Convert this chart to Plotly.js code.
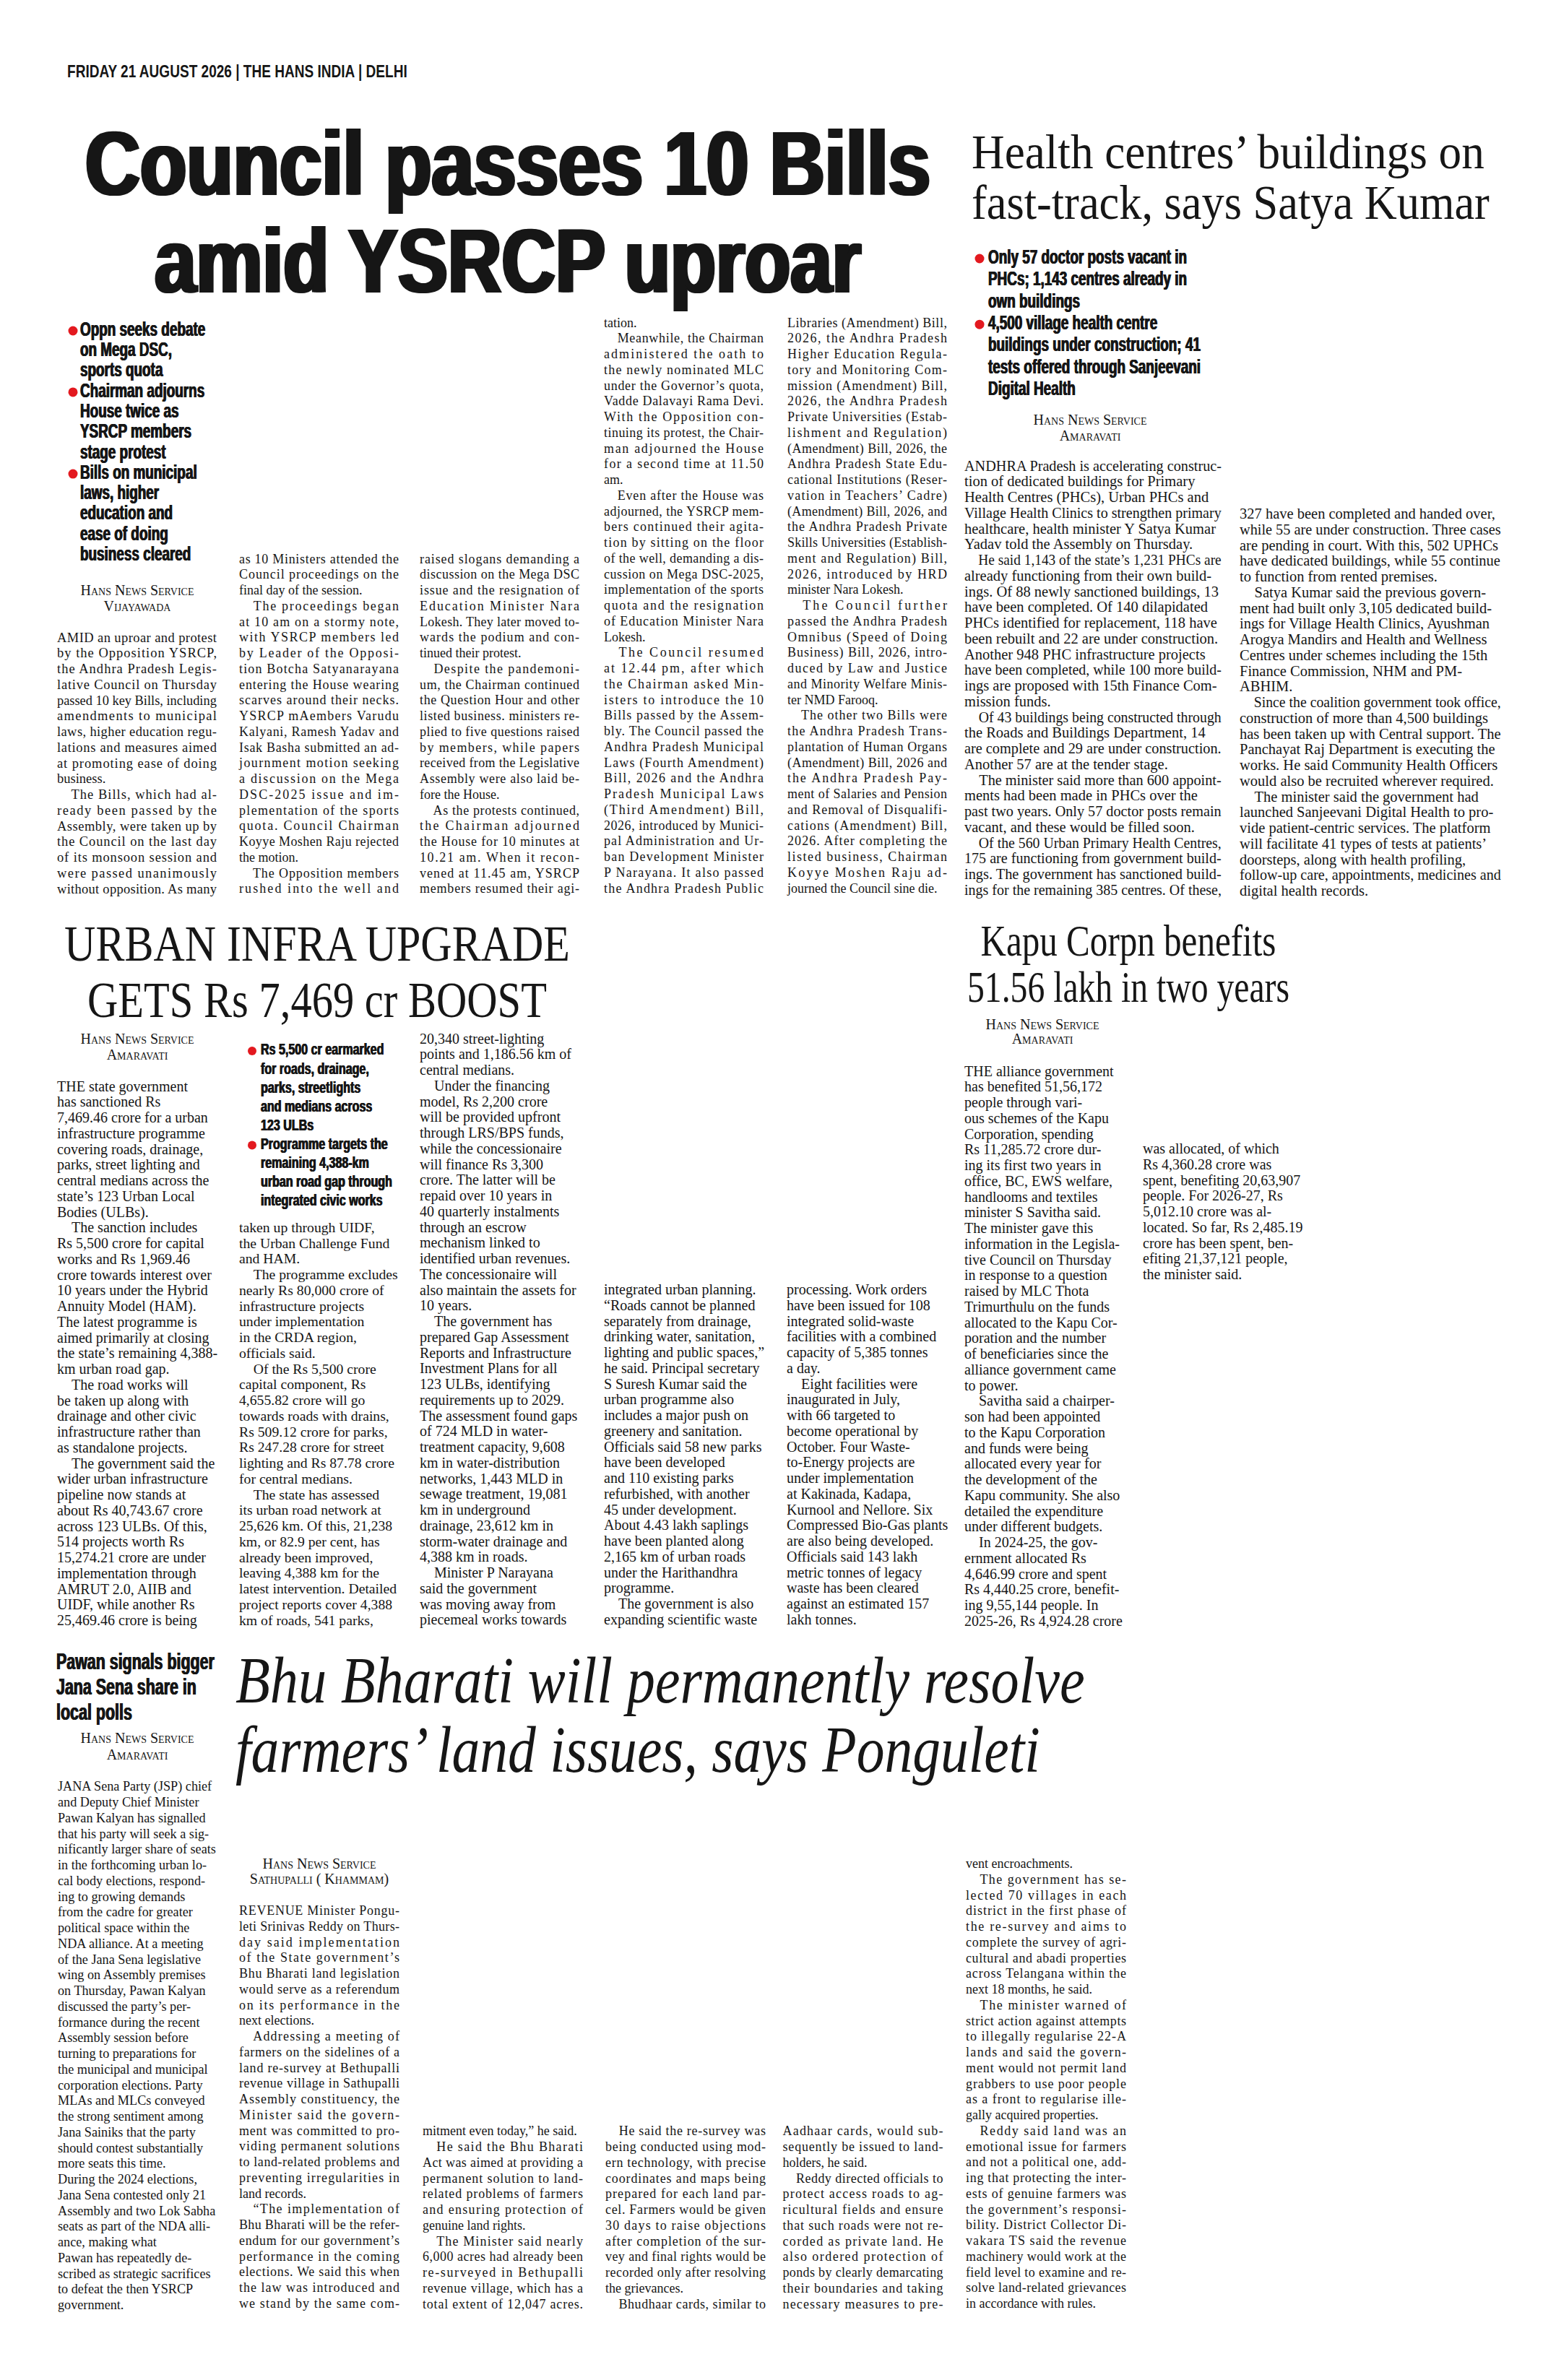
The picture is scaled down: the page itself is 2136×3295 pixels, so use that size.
<!DOCTYPE html>
<html>
<head>
<meta charset="utf-8">
<script src="https://cdn.plot.ly/plotly-3.0.1.min.js"></script>
<style>
  html, body { margin: 0; padding: 0; background: #fff; }
  #page { width: 2136px; height: 3295px; }
</style>
</head>
<body>
<div id="page"></div>
<script>
(() => {
  "use strict";

  const W = 2136, H = 3295;
  const IND = "\u2003"; // paragraph indent

  // ---------------------------------------------------------
  // text (one entry per printed line)
  // ---------------------------------------------------------
  const dateline = ["FRIDAY 21 AUGUST 2026 | THE HANS INDIA | DELHI"];

  const councilHead = ["Council passes 10 Bills", "amid YSRCP uproar"];
  const councilBullets = [
    ["Oppn seeks debate", "on Mega DSC,", "sports quota"],
    ["Chairman adjourns", "House twice as", "YSRCP members", "stage protest"],
    ["Bills on municipal", "laws, higher", "education and", "ease of doing", "business cleared"]
  ];
  const councilByline = ["Hans News Service", "Vijayawada"];
  const councilCol1 = [
    "AMID an uproar and protest", "by the Opposition YSRCP,", "the Andhra Pradesh Legis-",
    "lative Council on Thursday", "passed 10 key Bills, including", "amendments to municipal",
    "laws, higher education regu-", "lations and measures aimed", "at promoting ease of doing",
    "business.", IND + "The Bills, which had al-", "ready been passed by the",
    "Assembly, were taken up by", "the Council on the last day", "of its monsoon session and",
    "were passed unanimously", "without opposition. As many"
  ];
  const councilCol2 = [
    "as 10 Ministers attended the", "Council proceedings on the", "final day of the session.",
    IND + "The proceedings began", "at 10 am on a stormy note,", "with YSRCP members led",
    "by Leader of the Opposi-", "tion Botcha Satyanarayana", "entering the House wearing",
    "scarves around their necks.", "YSRCP mAembers Varudu", "Kalyani, Ramesh Yadav and",
    "Isak Basha submitted an ad-", "journment motion seeking", "a discussion on the Mega",
    "DSC-2025 issue and im-", "plementation of the sports", "quota. Council Chairman",
    "Koyye Moshen Raju rejected", "the motion.", IND + "The Opposition members",
    "rushed into the well and"
  ];
  const councilCol3 = [
    "raised slogans demanding a", "discussion on the Mega DSC", "issue and the resignation of",
    "Education Minister Nara", "Lokesh. They later moved to-", "wards the podium and con-",
    "tinued their protest.", IND + "Despite the pandemoni-", "um, the Chairman continued",
    "the Question Hour and other", "listed business. ministers re-", "plied to five questions raised",
    "by members, while papers", "received from the Legislative", "Assembly were also laid be-",
    "fore the House.", IND + "As the protests continued,", "the Chairman adjourned",
    "the House for 10 minutes at", "10.21 am. When it recon-", "vened at 11.45 am, YSRCP",
    "members resumed their agi-"
  ];
  const councilCol4 = [
    "tation.", IND + "Meanwhile, the Chairman", "administered the oath to",
    "the newly nominated MLC", "under the Governor’s quota,", "Vadde Dalavayi Rama Devi.",
    "With the Opposition con-", "tinuing its protest, the Chair-", "man adjourned the House",
    "for a second time at 11.50", "am.", IND + "Even after the House was",
    "adjourned, the YSRCP mem-", "bers continued their agita-", "tion by sitting on the floor",
    "of the well, demanding a dis-", "cussion on Mega DSC-2025,", "implementation of the sports",
    "quota and the resignation", "of Education Minister Nara", "Lokesh.",
    IND + "The Council resumed", "at 12.44 pm, after which", "the Chairman asked Min-",
    "isters to introduce the 10", "Bills passed by the Assem-", "bly. The Council passed the",
    "Andhra Pradesh Municipal", "Laws (Fourth Amendment)", "Bill, 2026 and the Andhra",
    "Pradesh Municipal Laws", "(Third Amendment) Bill,", "2026, introduced by Munici-",
    "pal Administration and Ur-", "ban Development Minister", "P Narayana. It also passed",
    "the Andhra Pradesh Public"
  ];
  const councilCol5 = [
    "Libraries (Amendment) Bill,", "2026, the Andhra Pradesh", "Higher Education Regula-",
    "tory and Monitoring Com-", "mission (Amendment) Bill,", "2026, the Andhra Pradesh",
    "Private Universities (Estab-", "lishment and Regulation)", "(Amendment) Bill, 2026, the",
    "Andhra Pradesh State Edu-", "cational Institutions (Reser-", "vation in Teachers’ Cadre)",
    "(Amendment) Bill, 2026, and", "the Andhra Pradesh Private", "Skills Universities (Establish-",
    "ment and Regulation) Bill,", "2026, introduced by HRD", "minister Nara Lokesh.",
    IND + "The Council further", "passed the Andhra Pradesh", "Omnibus (Speed of Doing",
    "Business) Bill, 2026, intro-", "duced by Law and Justice", "and Minority Welfare Minis-",
    "ter NMD Farooq.", IND + "The other two Bills were", "the Andhra Pradesh Trans-",
    "plantation of Human Organs", "(Amendment) Bill, 2026 and", "the Andhra Pradesh Pay-",
    "ment of Salaries and Pension", "and Removal of Disqualifi-", "cations (Amendment) Bill,",
    "2026. After completing the", "listed business, Chairman", "Koyye Moshen Raju ad-",
    "journed the Council sine die."
  ];

  const healthHead = ["Health centres’ buildings on", "fast-track, says Satya Kumar"];
  const healthBullets = [
    ["Only 57 doctor posts vacant in", "PHCs; 1,143 centres already in", "own buildings"],
    ["4,500 village health centre", "buildings under construction; 41", "tests offered through Sanjeevani", "Digital Health"]
  ];
  const healthByline = ["Hans News Service", "Amaravati"];
  const healthCol1 = [
    "ANDHRA Pradesh is accelerating construc-", "tion of dedicated buildings for Primary",
    "Health Centres (PHCs), Urban PHCs and", "Village Health Clinics to strengthen primary",
    "healthcare, health minister Y Satya Kumar", "Yadav told the Assembly on Thursday.",
    IND + "He said 1,143 of the state’s 1,231 PHCs are", "already functioning from their own build-",
    "ings. Of 88 newly sanctioned buildings, 13", "have been completed. Of 140 dilapidated",
    "PHCs identified for replacement, 118 have", "been rebuilt and 22 are under construction.",
    "Another 948 PHC infrastructure projects", "have been completed, while 100 more build-",
    "ings are proposed with 15th Finance Com-", "mission funds.",
    IND + "Of 43 buildings being constructed through", "the Roads and Buildings Department, 14",
    "are complete and 29 are under construction.", "Another 57 are at the tender stage.",
    IND + "The minister said more than 600 appoint-", "ments had been made in PHCs over the",
    "past two years. Only 57 doctor posts remain", "vacant, and these would be filled soon.",
    IND + "Of the 560 Urban Primary Health Centres,", "175 are functioning from government build-",
    "ings. The government has sanctioned build-", "ings for the remaining 385 centres. Of these,"
  ];
  const healthCol2 = [
    "327 have been completed and handed over,", "while 55 are under construction. Three cases",
    "are pending in court. With this, 502 UPHCs", "have dedicated buildings, while 55 continue",
    "to function from rented premises.", IND + "Satya Kumar said the previous govern-",
    "ment had built only 3,105 dedicated build-", "ings for Village Health Clinics, Ayushman",
    "Arogya Mandirs and Health and Wellness", "Centres under schemes including the 15th",
    "Finance Commission, NHM and PM-", "ABHIM.",
    IND + "Since the coalition government took office,", "construction of more than 4,500 buildings",
    "has been taken up with Central support. The", "Panchayat Raj Department is executing the",
    "works. He said Community Health Officers", "would also be recruited wherever required.",
    IND + "The minister said the government had", "launched Sanjeevani Digital Health to pro-",
    "vide patient-centric services. The platform", "will facilitate 41 types of tests at patients’",
    "doorsteps, along with health profiling,", "follow-up care, appointments, medicines and",
    "digital health records."
  ];

  const urbanHead = ["URBAN INFRA UPGRADE", "GETS Rs 7,469 cr BOOST"];
  const urbanBullets = [
    ["Rs 5,500 cr earmarked", "for roads, drainage,", "parks, streetlights", "and medians across", "123 ULBs"],
    ["Programme targets the", "remaining 4,388-km", "urban road gap through", "integrated civic works"]
  ];
  const urbanByline = ["Hans News Service", "Amaravati"];
  const urbanCol1 = [
    "THE state government", "has sanctioned Rs", "7,469.46 crore for a urban",
    "infrastructure programme", "covering roads, drainage,", "parks, street lighting and",
    "central medians across the", "state’s 123 Urban Local", "Bodies (ULBs).",
    IND + "The sanction includes", "Rs 5,500 crore for capital", "works and Rs 1,969.46",
    "crore towards interest over", "10 years under the Hybrid", "Annuity Model (HAM).",
    "The latest programme is", "aimed primarily at closing", "the state’s remaining 4,388-",
    "km urban road gap.", IND + "The road works will", "be taken up along with",
    "drainage and other civic", "infrastructure rather than", "as standalone projects.",
    IND + "The government said the", "wider urban infrastructure", "pipeline now stands at",
    "about Rs 40,743.67 crore", "across 123 ULBs. Of this,", "514 projects worth Rs",
    "15,274.21 crore are under", "implementation through", "AMRUT 2.0, AIIB and",
    "UIDF, while another Rs", "25,469.46 crore is being"
  ];
  const urbanCol2 = [
    "taken up through UIDF,", "the Urban Challenge Fund", "and HAM.",
    IND + "The programme excludes", "nearly Rs 80,000 crore of", "infrastructure projects",
    "under implementation", "in the CRDA region,", "officials said.",
    IND + "Of the Rs 5,500 crore", "capital component, Rs", "4,655.82 crore will go",
    "towards roads with drains,", "Rs 509.12 crore for parks,", "Rs 247.28 crore for street",
    "lighting and Rs 87.78 crore", "for central medians.", IND + "The state has assessed",
    "its urban road network at", "25,626 km. Of this, 21,238", "km, or 82.9 per cent, has",
    "already been improved,", "leaving 4,388 km for the", "latest intervention. Detailed",
    "project reports cover 4,388", "km of roads, 541 parks,"
  ];
  const urbanCol3 = [
    "20,340 street-lighting", "points and 1,186.56 km of", "central medians.",
    IND + "Under the financing", "model, Rs 2,200 crore", "will be provided upfront",
    "through LRS/BPS funds,", "while the concessionaire", "will finance Rs 3,300",
    "crore. The latter will be", "repaid over 10 years in", "40 quarterly instalments",
    "through an escrow", "mechanism linked to", "identified urban revenues.",
    "The concessionaire will", "also maintain the assets for", "10 years.",
    IND + "The government has", "prepared Gap Assessment", "Reports and Infrastructure",
    "Investment Plans for all", "123 ULBs, identifying", "requirements up to 2029.",
    "The assessment found gaps", "of 724 MLD in water-", "treatment capacity, 9,608",
    "km in water-distribution", "networks, 1,443 MLD in", "sewage treatment, 19,081",
    "km in underground", "drainage, 23,612 km in", "storm-water drainage and",
    "4,388 km in roads.", IND + "Minister P Narayana", "said the government",
    "was moving away from", "piecemeal works towards"
  ];
  const urbanCol4 = [
    "integrated urban planning.", "“Roads cannot be planned", "separately from drainage,",
    "drinking water, sanitation,", "lighting and public spaces,”", "he said. Principal secretary",
    "S Suresh Kumar said the", "urban programme also", "includes a major push on",
    "greenery and sanitation.", "Officials said 58 new parks", "have been developed",
    "and 110 existing parks", "refurbished, with another", "45 under development.",
    "About 4.43 lakh saplings", "have been planted along", "2,165 km of urban roads",
    "under the Harithandhra", "programme.", IND + "The government is also",
    "expanding scientific waste"
  ];
  const urbanCol5 = [
    "processing. Work orders", "have been issued for 108", "integrated solid-waste",
    "facilities with a combined", "capacity of 5,385 tonnes", "a day.",
    IND + "Eight facilities were", "inaugurated in July,", "with 66 targeted to",
    "become operational by", "October. Four Waste-", "to-Energy projects are",
    "under implementation", "at Kakinada, Kadapa,", "Kurnool and Nellore. Six",
    "Compressed Bio-Gas plants", "are also being developed.", "Officials said 143 lakh",
    "metric tonnes of legacy", "waste has been cleared", "against an estimated 157",
    "lakh tonnes."
  ];

  const kapuHead = ["Kapu Corpn benefits", "51.56 lakh in two years"];
  const kapuByline = ["Hans News Service", "Amaravati"];
  const kapuCol1 = [
    "THE alliance government", "has benefited 51,56,172", "people through vari-",
    "ous schemes of the Kapu", "Corporation, spending", "Rs 11,285.72 crore dur-",
    "ing its first two years in", "office, BC, EWS welfare,", "handlooms and textiles",
    "minister S Savitha said.", "The minister gave this", "information in the Legisla-",
    "tive Council on Thursday", "in response to a question", "raised by MLC Thota",
    "Trimurthulu on the funds", "allocated to the Kapu Cor-", "poration and the number",
    "of beneficiaries since the", "alliance government came", "to power.",
    IND + "Savitha said a chairper-", "son had been appointed", "to the Kapu Corporation",
    "and funds were being", "allocated every year for", "the development of the",
    "Kapu community. She also", "detailed the expenditure", "under different budgets.",
    IND + "In 2024-25, the gov-", "ernment allocated Rs", "4,646.99 crore and spent",
    "Rs 4,440.25 crore, benefit-", "ing 9,55,144 people. In", "2025-26, Rs 4,924.28 crore"
  ];
  const kapuCol2 = [
    "was allocated, of which", "Rs 4,360.28 crore was", "spent, benefiting 20,63,907",
    "people. For 2026-27, Rs", "5,012.10 crore was al-", "located. So far, Rs 2,485.19",
    "crore has been spent, ben-", "efiting 21,37,121 people,", "the minister said."
  ];

  const pawanHead = ["Pawan signals bigger", "Jana Sena share in", "local polls"];
  const pawanByline = ["Hans News Service", "Amaravati"];
  const pawanCol = [
    "JANA Sena Party (JSP) chief", "and Deputy Chief Minister", "Pawan Kalyan has signalled",
    "that his party will seek a sig-", "nificantly larger share of seats", "in the forthcoming urban lo-",
    "cal body elections, respond-", "ing to growing demands", "from the cadre for greater",
    "political space within the", "NDA alliance. At a meeting", "of the Jana Sena legislative",
    "wing on Assembly premises", "on Thursday, Pawan Kalyan", "discussed the party’s per-",
    "formance during the recent", "Assembly session before", "turning to preparations for",
    "the municipal and municipal", "corporation elections. Party", "MLAs and MLCs conveyed",
    "the strong sentiment among", "Jana Sainiks that the party", "should contest substantially",
    "more seats this time.", "During the 2024 elections,", "Jana Sena contested only 21",
    "Assembly and two Lok Sabha", "seats as part of the NDA alli-", "ance, making what",
    "Pawan has repeatedly de-", "scribed as strategic sacrifices", "to defeat the then YSRCP",
    "government."
  ];

  const bhuHead = ["Bhu Bharati will permanently resolve", "farmers’ land issues, says Ponguleti"];
  const bhuByline = ["Hans News Service", "Sathupalli ( Khammam)"];
  const bhuCol1 = [
    "REVENUE Minister Pongu-", "leti Srinivas Reddy on Thurs-", "day said implementation",
    "of the State government’s", "Bhu Bharati land legislation", "would serve as a referendum",
    "on its performance in the", "next elections.", IND + "Addressing a meeting of",
    "farmers on the sidelines of a", "land re-survey at Bethupalli", "revenue village in Sathupalli",
    "Assembly constituency, the", "Minister said the govern-", "ment was committed to pro-",
    "viding permanent solutions", "to land-related problems and", "preventing irregularities in",
    "land records.", IND + "“The implementation of", "Bhu Bharati will be the refer-",
    "endum for our government’s", "performance in the coming", "elections. We said this when",
    "the law was introduced and", "we stand by the same com-"
  ];
  const bhuCol2 = [
    "mitment even today,” he said.", IND + "He said the Bhu Bharati", "Act was aimed at providing a",
    "permanent solution to land-", "related problems of farmers", "and ensuring protection of",
    "genuine land rights.", IND + "The Minister said nearly", "6,000 acres had already been",
    "re-surveyed in Bethupalli", "revenue village, which has a", "total extent of 12,047 acres."
  ];
  const bhuCol3 = [
    IND + "He said the re-survey was", "being conducted using mod-", "ern technology, with precise",
    "coordinates and maps being", "prepared for each land par-", "cel. Farmers would be given",
    "30 days to raise objections", "after completion of the sur-", "vey and final rights would be",
    "recorded only after resolving", "the grievances.", IND + "Bhudhaar cards, similar to"
  ];
  const bhuCol4 = [
    "Aadhaar cards, would sub-", "sequently be issued to land-", "holders, he said.",
    IND + "Reddy directed officials to", "protect access roads to ag-", "ricultural fields and ensure",
    "that such roads were not re-", "corded as private land. He", "also ordered protection of",
    "ponds by clearly demarcating", "their boundaries and taking", "necessary measures to pre-"
  ];
  const bhuCol5 = [
    "vent encroachments.", IND + "The government has se-", "lected 70 villages in each",
    "district in the first phase of", "the re-survey and aims to", "complete the survey of agri-",
    "cultural and abadi properties", "across Telangana within the", "next 18 months, he said.",
    IND + "The minister warned of", "strict action against attempts", "to illegally regularise 22-A",
    "lands and said the govern-", "ment would not permit land", "grabbers to use poor people",
    "as a front to regularise ille-", "gally acquired properties.", IND + "Reddy said land was an",
    "emotional issue for farmers", "and not a political one, add-", "ing that protecting the inter-",
    "ests of genuine farmers was", "the government’s responsi-", "bility. District Collector Di-",
    "vakara TS said the revenue", "machinery would work at the", "field level to examine and re-",
    "solve land-related grievances", "in accordance with rules."
  ];

  // ---------------------------------------------------------
  // styles
  // ---------------------------------------------------------
  const INK = "#161616";
  const RED = "#e3191f";
  const SERIF = "Liberation Serif, Times New Roman, serif";
  const SANS = "Liberation Sans, Arial, sans-serif";
  // thickens the squeezed bold faces a little
  const heavy = px => `${px}px 0 0 ${INK}, -${px}px 0 0 ${INK}`;

  const body = size => ({ family: SERIF, size: size, color: INK });
  const bylineFont = { family: SERIF, size: 20, color: INK, variant: "small-caps" };
  const LH = 21.75;

  const traces = [];
  const fits = []; // per trace: how to fit each line after drawing

  function block(lines, x, y0, dy, font, fit, pos) {
    traces.push({
      type: "scatter",
      mode: "text",
      x: lines.map(() => x),
      y: lines.map((_, i) => y0 + i * dy),
      text: lines,
      textposition: pos || "middle right",
      textfont: font,
      cliponaxis: false,
      hoverinfo: "skip",
      showlegend: false
    });
    fits.push(fit || null);
  }

  // justified column: every line but the paragraph ends is stretched
  function justified(lines, x, y0, width, size, isEnd) {
    const last = lines.map((l, i) =>
      i === lines.length - 1 ? !!isEnd : lines[i + 1].startsWith(IND));
    block(lines, x, y0, LH, body(size), { just: width, last });
  }

  function ragged(lines, x, y0, width, size) {
    block(lines, x, y0, LH, body(size), { max: width });
  }

  function bullets(groups, xDot, xText, y0, dy, font, sx, dotSize) {
    const lines = [].concat(...groups);
    block(lines, xText, y0, dy, font, { sx });
    const dx = [], dyv = [];
    let k = 0;
    for (const g of groups) {
      dx.push(xDot);
      dyv.push(y0 + k * dy);
      k += g.length;
    }
    traces.push({
      type: "scatter", mode: "markers", x: dx, y: dyv,
      marker: { color: RED, size: dotSize, line: { width: 0 } },
      cliponaxis: false, hoverinfo: "skip", showlegend: false
    });
    fits.push(null);
  }

  function headline(lines, x, baselines, font, widths, pos) {
    const shift = font.size * 0.25;
    traces.push({
      type: "scatter", mode: "text",
      x: lines.map(() => x),
      y: baselines.map(b => b - shift),
      text: lines,
      textposition: pos || "middle right",
      textfont: font,
      cliponaxis: false, hoverinfo: "skip", showlegend: false
    });
    fits.push({ w: widths });
  }

  function byline(lines, xc, ys) {
    traces.push({
      type: "scatter", mode: "text",
      x: lines.map(() => xc), y: ys, text: lines,
      textposition: "middle center", textfont: bylineFont,
      cliponaxis: false, hoverinfo: "skip", showlegend: false
    });
    fits.push(null);
  }

  // ---------------------------------------------------------
  // page
  // ---------------------------------------------------------
  headline(dateline, 93, [107],
    { family: SANS, size: 24, color: INK, weight: "bold" }, [471]);

  // Council
  headline(councilHead, 703, [270, 405],
    { family: SANS, size: 127, color: INK, weight: "bold", shadow: heavy(3) },
    [1170, 978], "middle center");
  bullets(councilBullets, 101, 111, 458, 28.3,
    { family: SANS, size: 27, color: INK, weight: "bold", shadow: heavy(0.6) }, 0.70, 13);
  byline(councilByline, 190, [819, 841]);
  justified(councilCol1, 79, 884, 221, 18.5);
  justified(councilCol2, 331, 775, 221, 18);
  justified(councilCol3, 581, 775, 221, 18);
  justified(councilCol4, 836, 448, 221, 18);
  justified(councilCol5, 1090, 448, 221, 18, true);

  // Health
  headline(healthHead, 1345, [233.5, 303.5],
    { family: SERIF, size: 68, color: INK }, [710, 717]);
  bullets(healthBullets, 1356, 1368, 358, 30.4,
    { family: SANS, size: 27, color: INK, weight: "bold", shadow: heavy(0.6) }, 0.70, 13);
  byline(healthByline, 1509, [583, 604.5]);
  ragged(healthCol1, 1335, 646.5, 356, 20.5);
  ragged(healthCol2, 1716, 713, 362, 20.5);

  // Urban infra
  headline(urbanHead, 439, [1330, 1408],
    { family: SERIF, size: 70, color: INK }, [700, 636], "middle center");
  byline(urbanByline, 190, [1440, 1462]);
  bullets(urbanBullets, 349, 361, 1455, 26.1,
    { family: SANS, size: 22, color: INK, weight: "bold", shadow: heavy(0.5) }, 0.73, 12);
  ragged(urbanCol1, 79, 1505.6, 226, 20);
  ragged(urbanCol2, 331, 1701, 226, 19.7);
  ragged(urbanCol3, 581, 1439.7, 228, 20);
  ragged(urbanCol4, 836, 1787, 228, 20);
  ragged(urbanCol5, 1089, 1787, 230, 20);

  // Kapu
  headline(kapuHead, 1562, [1323, 1387],
    { family: SERIF, size: 62, color: INK }, [409, 446], "middle center");
  byline(kapuByline, 1443, [1419.6, 1440]);
  ragged(kapuCol1, 1335, 1484.7, 222, 20);
  ragged(kapuCol2, 1582, 1592, 230, 20);

  // Pawan
  headline(pawanHead, 78, [2311, 2346, 2381],
    { family: SANS, size: 31, color: INK, weight: "bold", shadow: heavy(0.6) }, [219, 194, 105]);
  byline(pawanByline, 190, [2408, 2431]);
  ragged(pawanCol, 80, 2474.8, 224, 18.2);

  // Bhu Bharati
  headline(bhuHead, 326, [2356.7, 2452.7],
    { family: SERIF, size: 92, color: INK, style: "italic" }, [1176, 1114]);
  byline(bhuByline, 442, [2582, 2602.6]);
  justified(bhuCol1, 331, 2646.7, 222, 18);
  justified(bhuCol2, 585, 2951.8, 222, 18);
  justified(bhuCol3, 838, 2951.8, 222, 18);
  justified(bhuCol4, 1083.5, 2951.8, 222, 18);
  justified(bhuCol5, 1337, 2581.5, 222, 18, true);

  const layout = {
    width: W,
    height: H,
    margin: { l: 0, r: 0, t: 0, b: 0, pad: 0 },
    paper_bgcolor: "#ffffff",
    plot_bgcolor: "#ffffff",
    xaxis: { range: [0, W], visible: false, fixedrange: true },
    yaxis: { range: [H, 0], visible: false, fixedrange: true },
    showlegend: false,
    hovermode: false
  };

  const gd = document.getElementById("page");

  // horizontal scale of one drawn line about its anchor point
  function squeeze(t, s) {
    const b = t.getBBox();
    const a = t.getAttribute("text-anchor");
    const ax = a === "middle" ? b.x + b.width / 2 : a === "end" ? b.x + b.width : b.x;
    t.setAttribute("transform",
      `translate(${ax.toFixed(2)},0) scale(${s.toFixed(4)},1) translate(${(-ax).toFixed(2)},0)`);
  }

  // squeeze / justify drawn lines to the measured widths
  function fitText() {
    const groups = gd.querySelectorAll(".scatterlayer .trace");
    groups.forEach((g, k) => {
      const f = fits[k];
      if (!f) return;
      g.querySelectorAll(".textpoint text").forEach((t, i) => {
        const len = t.getComputedTextLength();
        if (!len) return;
        if (f.w) squeeze(t, f.w[i] / len);
        else if (f.sx) squeeze(t, f.sx);
        else if (f.just) {
          if (len > f.just) squeeze(t, f.just / len);
          else if (!f.last[i] && len > 0.6 * f.just) {
            t.setAttribute("textLength", f.just.toFixed(1));
            t.setAttribute("lengthAdjust", "spacing");
          }
        } else if (f.max && len > f.max) squeeze(t, f.max / len);
      });
    });
  }

  Plotly.newPlot(gd, traces, layout, { staticPlot: true, displayModeBar: false })
    .then(fitText);
})();
</script>
</body>
</html>
